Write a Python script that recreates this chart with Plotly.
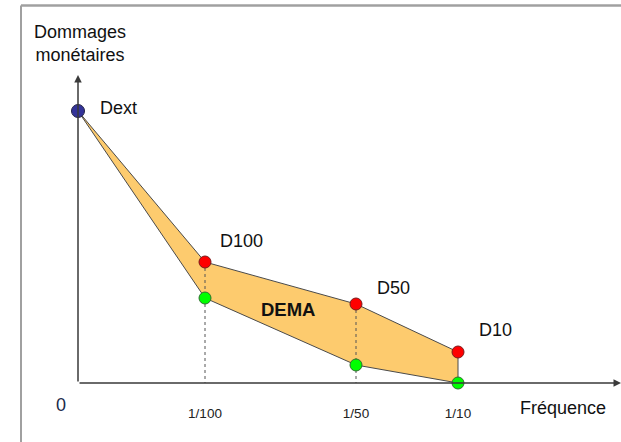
import plotly.graph_objects as go

# ---- schematic data (arbitrary units, origin at 0) ----
freq_labels = ["1/100", "1/50", "1/10"]
freq_x = [127, 278, 380]            # positions of the return periods on the frequency axis
point_names = ["D100", "D50", "D10"]
dext = 272                           # damage at frequency 0
upper = [121, 79, 31]                # red points (upper damages)
lower = [85, 18, 0]                  # green points (lower damages)

x_max = 543
y_max = 383
y_arrow = 308

FONT = "Liberation Sans, Arial, sans-serif"
AX_COL = "#3a3a3a"

fig = go.Figure()

# filled area (DEMA)
poly_x = [0] + freq_x + freq_x[::-1] + [0]
poly_y = [dext] + upper + lower[::-1] + [dext]
fig.add_trace(go.Scatter(x=poly_x, y=poly_y, mode="lines", fill="toself",
                         fillcolor="#FDCB6E", line=dict(color="#4a4a4a", width=1),
                         hoverinfo="skip", cliponaxis=False))

# dotted guides
for xv, yv in zip(freq_x[:2], upper[:2]):
    fig.add_trace(go.Scatter(x=[xv, xv], y=[yv, -10], mode="lines",
                             line=dict(color="#555555", width=1, dash="dot"),
                             hoverinfo="skip", cliponaxis=False))

# points
fig.add_trace(go.Scatter(x=[0], y=[dext], mode="markers",
                         marker=dict(size=13, color="#333399", line=dict(color="#222244", width=1)),
                         cliponaxis=False))
fig.add_trace(go.Scatter(x=freq_x, y=upper, mode="markers",
                         marker=dict(size=12, color="#FF0000", line=dict(color="#7a1a1a", width=1)),
                         cliponaxis=False))
fig.add_trace(go.Scatter(x=freq_x, y=lower, mode="markers",
                         marker=dict(size=12, color="#00FF00", line=dict(color="#2f6f2f", width=1)),
                         cliponaxis=False))

ann = []
# axes with arrows
ann.append(dict(x=x_max, y=0, ax=0, ay=0, xref="x", yref="y", axref="x", ayref="y",
                showarrow=True, arrowhead=2, arrowsize=1, arrowwidth=1.5, arrowcolor=AX_COL, text=""))
ann.append(dict(x=0, y=y_arrow, ax=0, ay=0, xref="x", yref="y", axref="x", ayref="y",
                showarrow=True, arrowhead=2, arrowsize=1, arrowwidth=1.5, arrowcolor=AX_COL, text=""))

lbl_font = dict(family=FONT, size=18, color="#111111")
ann.append(dict(x=0, y=dext, text="Dext", showarrow=False, xshift=40, yshift=3, font=lbl_font))
shifts = [(36, 21), (37, 16), (37, 22)]
for name, xv, yv, (dx, dy) in zip(point_names, freq_x, upper, shifts):
    ann.append(dict(x=xv, y=yv, text=name, showarrow=False, xshift=dx, yshift=dy, font=lbl_font))

ann.append(dict(x=(freq_x[0] + freq_x[1]) / 2, y=sum(upper[:2] + lower[:2]) / 4,
                text="<b>DEMA</b>", showarrow=False, xshift=7, yshift=-2,
                font=dict(family=FONT, size=18.5, color="#111111")))

ann.append(dict(x=2, y=340, text="Dommages<br>monétaires", showarrow=False,
                font=lbl_font, align="center"))
ann.append(dict(x=-17 / x_max, y=-22 / y_max, xref="paper", yref="paper", text="0",
                xanchor="center", yanchor="middle",
                showarrow=False, font=dict(family=FONT, size=18, color="#1a2a4a")))
ann.append(dict(x=485 / x_max, y=-25 / y_max, xref="paper", yref="paper", text="Fréquence",
                xanchor="center", yanchor="middle", showarrow=False, font=lbl_font))

# frame lines (light gray) top and left
frame_col = "#a0a0a0"
shapes = [
    dict(type="line", xref="paper", yref="paper", x0=-57 / x_max, x1=1.0,
         y0=377.5 / y_max, y1=377.5 / y_max, line=dict(color=frame_col, width=2.5)),
    dict(type="line", xref="paper", yref="paper", x0=-57 / x_max, x1=-57 / x_max,
         y0=377.5 / y_max, y1=-59 / y_max, line=dict(color=frame_col, width=2)),
]

fig.update_layout(
    width=621, height=442, autosize=False,
    margin=dict(l=78, r=0, t=0, b=59),
    paper_bgcolor="white", plot_bgcolor="white",
    showlegend=False,
    annotations=ann, shapes=shapes,
    xaxis=dict(range=[0, x_max], showgrid=False, zeroline=False, showline=False,
               tickvals=freq_x, ticktext=freq_labels, ticks="",
               tickfont=dict(family=FONT, size=13.5, color="#222222"),
               ticklabelstandoff=20, fixedrange=True),
    yaxis=dict(range=[0, y_max], showgrid=False, zeroline=False, showline=False,
               showticklabels=False, ticks="", fixedrange=True),
)

fig.write_html("out.html", config={"displayModeBar": False},
               post_script="document.body.style.margin='0';")
